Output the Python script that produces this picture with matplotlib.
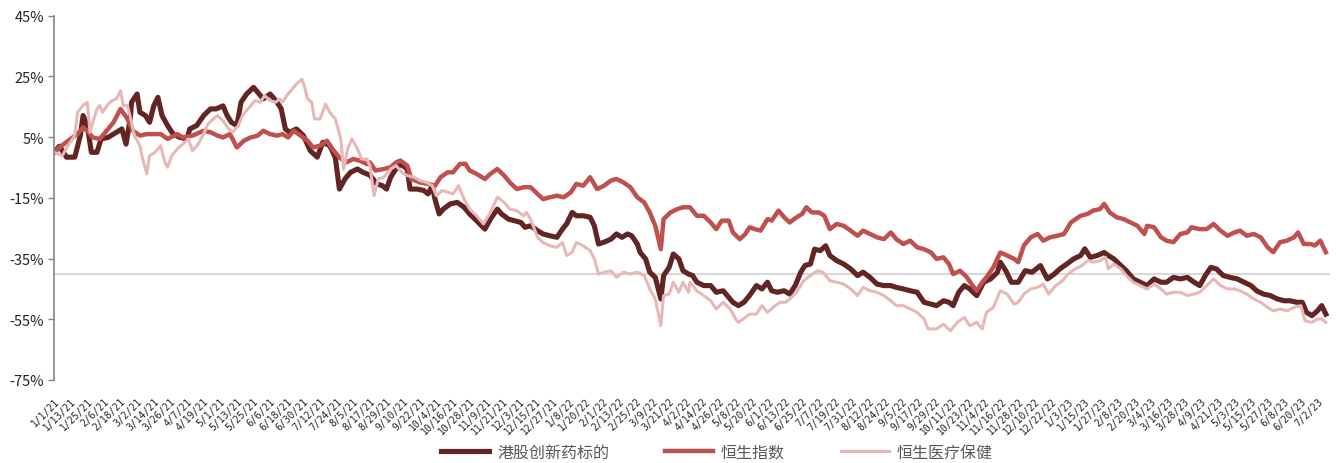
import datetime as dt
import matplotlib
matplotlib.use("Agg")
import matplotlib.pyplot as plt

plt.rcParams['font.family'] = ['Noto Sans CJK SC', 'DejaVu Sans']

START = dt.date(2021, 1, 1)

# 累计涨跌幅(%)，横轴为距 2021-01-01 的自然日
dark_day = [0, 4, 9, 15, 19, 21, 24, 27, 31, 34, 39, 45, 49, 52, 55, 56, 60, 62, 66, 69,
            72, 75, 78, 82, 86, 91, 96, 98, 103, 108, 113, 117, 122, 125, 128, 132, 135, 139, 144, 147,
            151, 156, 161, 164, 167, 170, 175, 180, 185, 190, 194, 199, 203, 206, 210, 214, 219, 223, 228, 233,
            237, 240, 243, 246, 250, 255, 257, 262, 267, 270, 273, 275, 278, 281, 286, 291, 296, 300, 305, 311,
            315, 320, 323, 328, 332, 337, 340, 344, 349, 353, 358, 363, 367, 370, 374, 377, 382, 387, 390, 393,
            397, 402, 406, 410, 414, 417, 421, 423, 427, 430, 434, 438, 440, 444, 447, 451, 454, 458, 461, 464,
            469, 474, 478, 483, 487, 490, 494, 498, 502, 507, 511, 515, 518, 522, 527, 531, 535, 539, 542, 546,
            549, 553, 557, 560, 565, 570, 575, 580, 584, 589, 594, 599, 604, 608, 613, 618, 623, 628, 633, 637,
            642, 646, 649, 653, 657, 661, 666, 671, 676, 681, 683, 687, 691, 696, 701, 706, 712, 717, 722, 726,
            731, 736, 741, 744, 748, 753, 758, 761, 765, 770, 774, 779, 784, 789, 794, 799, 803, 808, 813, 818,
            823, 827, 831, 835, 839, 844, 849, 854, 859, 864, 868, 873, 878, 883, 888, 892, 897, 901, 904, 908,
            912, 915, 918]
dark_val = [0, 2.0, -1.6, -1.6, 5.5, 12.1, 8.8, 0, 0, 4.4, 4.9, 6.6, 7.7, 2.7, 11.0, 16.5, 19.2, 13.2, 12.1, 9.9,
            15.3, 18.1, 12.1, 8.8, 6.0, 4.9, 4.4, 7.7, 8.8, 12.1, 14.3, 14.3, 15.3, 12.1, 9.9, 8.8, 16.5, 19.2, 21.4, 19.8,
            17.6, 19.2, 16.5, 14.3, 7.7, 6.6, 7.7, 5.5, 0.5, -1.6, 3.3, 2.2, -1.6, -12.1, -8.8, -6.6, -5.5, -6.6, -7.5, -10.4,
            -11.0, -12.1, -8.2, -6.0, -3.8, -5.5, -12.1, -12.1, -12.6, -13.7, -11.0, -15.4, -20.3, -18.7, -17.0, -16.5, -18.1, -20.3, -22.5, -25.3,
            -22.0, -18.7, -20.3, -22.0, -22.5, -23.1, -24.7, -24.2, -25.8, -26.9, -27.5, -28.0, -25.3, -23.6, -19.8, -20.9, -20.9, -21.4, -24.2, -30.2,
            -29.6, -28.6, -26.9, -28.0, -26.9, -27.5, -30.2, -32.9, -35.1, -39.5, -41.2, -48.3, -40.6, -37.9, -33.5, -35.1, -39.0, -40.1, -40.6, -42.8,
            -43.9, -43.9, -46.1, -45.6, -47.8, -49.4, -50.5, -49.4, -47.2, -43.9, -45.0, -42.8, -45.6, -46.1, -45.6, -46.7, -43.9, -39.5, -37.3, -36.8,
            -31.9, -32.4, -30.8, -34.0, -35.7, -36.8, -38.4, -40.6, -39.5, -41.2, -43.4, -43.9, -43.9, -44.5, -45.0, -45.6, -46.1, -49.4, -50.0, -50.5,
            -48.9, -49.4, -50.5, -46.1, -43.9, -45.0, -47.2, -42.8, -41.7, -39.5, -36.2, -39.0, -42.8, -42.8, -39.0, -39.5, -37.3, -41.7, -40.1, -38.4,
            -36.8, -35.1, -34.0, -31.8, -34.6, -34.0, -33.0, -34.0, -35.1, -37.3, -39.0, -41.7, -42.8, -43.9, -41.7, -42.8, -42.8, -41.2, -41.7, -41.2,
            -42.8, -43.9, -40.6, -37.9, -38.4, -40.6, -41.2, -41.7, -42.8, -43.9, -45.6, -46.7, -47.2, -48.3, -48.9, -48.9, -49.4, -49.4, -52.7, -53.8,
            -52.2, -50.5, -53.3]

hsi_day = [0, 7, 12, 17, 21, 24, 28, 33, 38, 43, 48, 53, 57, 62, 67, 72, 77, 82, 89, 93,
           100, 108, 113, 118, 122, 127, 132, 137, 142, 147, 151, 156, 161, 165, 169, 173, 178, 183, 187, 192,
           197, 201, 206, 211, 216, 221, 226, 228, 232, 238, 243, 247, 250, 255, 258, 264, 270, 275, 279, 284,
           288, 293, 297, 300, 305, 311, 315, 320, 325, 329, 334, 339, 344, 349, 353, 358, 363, 368, 373, 377,
           382, 387, 392, 397, 402, 406, 411, 416, 421, 426, 430, 434, 438, 440, 445, 450, 454, 459, 464, 469,
           474, 478, 482, 487, 490, 495, 499, 502, 506, 510, 515, 518, 523, 527, 531, 536, 540, 543, 547, 552,
           556, 560, 565, 570, 575, 580, 584, 589, 594, 599, 604, 608, 613, 618, 623, 628, 633, 637, 642, 646,
           649, 654, 659, 663, 666, 670, 673, 678, 683, 688, 693, 696, 700, 705, 710, 714, 719, 724, 729, 734,
           741, 746, 750, 755, 758, 762, 767, 772, 777, 782, 787, 789, 794, 799, 803, 808, 813, 818, 821, 827,
           832, 837, 842, 847, 852, 856, 861, 866, 871, 876, 880, 885, 890, 895, 898, 902, 907, 910, 914, 918]
hsi_val = [0, 2.7, 4.4, 6.0, 8.2, 7.1, 4.9, 4.4, 7.1, 9.9, 14.3, 11.0, 7.1, 5.5, 6.0, 6.0, 6.0, 4.4, 6.0, 4.9,
           5.5, 7.1, 6.6, 5.5, 4.9, 6.0, 1.6, 3.8, 4.9, 5.5, 7.1, 6.0, 5.5, 6.0, 4.9, 7.1, 5.5, 3.8, 1.6, 2.2,
           3.8, 1.1, -1.7, -3.3, -2.2, -2.8, -3.9, -3.3, -6.0, -5.5, -4.9, -3.3, -2.7, -4.4, -8.8, -9.9, -10.4, -11.0, -8.2, -6.6,
           -6.6, -3.8, -3.8, -6.0, -7.1, -8.8, -7.1, -5.5, -7.7, -9.9, -12.1, -11.5, -11.5, -13.7, -15.4, -14.8, -14.3, -14.8, -13.2, -10.4,
           -11.0, -8.2, -12.1, -11.0, -9.3, -8.8, -9.9, -11.5, -14.8, -16.5, -19.8, -24.2, -31.9, -22.0, -19.8, -18.7, -18.1, -18.1, -20.9, -20.9,
           -23.1, -25.3, -22.5, -22.5, -26.4, -28.6, -26.9, -24.7, -25.3, -25.8, -22.0, -22.5, -19.2, -21.4, -23.1, -21.4, -20.3, -18.1, -19.8, -19.8,
           -20.9, -25.3, -23.6, -24.2, -25.8, -27.5, -25.8, -26.9, -28.0, -28.6, -26.4, -28.6, -30.2, -29.1, -31.3, -31.9, -33.0, -35.1, -34.6, -36.8,
           -40.1, -39.0, -41.2, -43.9, -45.6, -42.8, -41.2, -37.9, -33.0, -34.0, -35.1, -36.2, -30.7, -28.0, -26.9, -29.1, -28.0, -27.5, -26.9, -23.1,
           -20.9, -20.3, -19.2, -18.7, -17.0, -19.8, -21.4, -22.0, -23.1, -24.2, -26.9, -24.2, -24.7, -28.0, -29.1, -29.6, -26.9, -26.4, -24.7, -25.3,
           -25.3, -23.6, -25.8, -27.5, -26.4, -25.8, -27.5, -26.9, -28.0, -31.3, -32.9, -29.6, -29.1, -28.0, -26.4, -30.2, -30.2, -30.7, -29.1, -32.9]

hc_day = [0, 6, 10, 15, 17, 21, 24, 26, 28, 31, 33, 35, 39, 42, 45, 48, 50, 53, 56, 58,
          62, 64, 67, 69, 73, 77, 80, 82, 85, 89, 93, 97, 100, 104, 108, 111, 115, 118, 122, 126,
          129, 133, 136, 141, 145, 149, 152, 156, 160, 163, 165, 168, 172, 175, 179, 181, 183, 186, 188, 192,
          196, 199, 203, 207, 209, 212, 215, 219, 222, 226, 228, 231, 234, 238, 243, 247, 251, 255, 260, 264,
          269, 273, 276, 280, 285, 288, 292, 296, 300, 305, 310, 315, 320, 325, 329, 334, 339, 341, 344, 349,
          353, 358, 363, 367, 370, 374, 377, 382, 387, 390, 393, 397, 402, 406, 411, 416, 421, 426, 430, 434,
          438, 440, 444, 447, 451, 454, 458, 459, 464, 469, 474, 478, 483, 488, 492, 494, 499, 502, 507, 511,
          515, 519, 524, 528, 531, 536, 541, 546, 551, 555, 560, 565, 570, 575, 580, 584, 589, 594, 599, 604,
          608, 613, 618, 623, 628, 631, 637, 642, 647, 652, 657, 661, 666, 670, 673, 678, 683, 688, 693, 696,
          700, 705, 710, 714, 718, 723, 728, 732, 737, 742, 746, 750, 755, 759, 761, 765, 770, 774, 779, 784,
          789, 794, 799, 803, 808, 813, 818, 823, 827, 832, 837, 842, 847, 852, 856, 861, 866, 871, 876, 880,
          885, 890, 895, 900, 903, 908, 912, 915, 918]
hc_val = [0, -1.1, 2.2, 5.5, 13.2, 15.4, 16.5, 6.6, 9.9, 14.3, 15.4, 13.2, 15.9, 17.0, 17.6, 20.3, 15.4, 15.4, 9.9, 5.5,
          2.2, -2.2, -7.1, -1.1, 0, 2.2, -3.3, -4.9, -1.1, 1.1, 2.7, 4.4, 0.5, 2.7, 6.0, 9.3, 11.0, 12.1, 10.4, 7.7,
          6.6, 8.8, 12.1, 14.8, 17.0, 16.5, 18.7, 17.0, 16.5, 17.6, 16.5, 18.7, 20.9, 22.5, 24.1, 21.4, 17.6, 16.5, 11.0, 11.0,
          15.9, 13.2, 11.0, 4.4, -5.5, 1.1, 4.4, 1.1, -2.2, -2.2, -4.4, -14.3, -8.8, -8.2, -5.5, -4.4, -6.6, -7.7, -8.2, -9.3,
          -9.9, -11.0, -14.3, -12.6, -13.2, -13.7, -11.0, -15.4, -18.7, -20.9, -23.6, -19.8, -14.8, -16.5, -18.7, -19.2, -20.9, -19.8, -22.0, -28.0,
          -29.7, -30.8, -31.3, -29.7, -34.0, -32.9, -29.7, -30.8, -32.4, -35.1, -40.1, -39.5, -39.0, -41.2, -39.5, -40.1, -39.5, -40.6, -45.0, -48.3,
          -57.1, -47.2, -46.7, -42.8, -46.1, -42.8, -46.1, -42.8, -45.6, -47.2, -48.9, -51.6, -49.4, -51.6, -54.9, -56.0, -54.4, -53.3, -53.3, -50.5,
          -52.7, -51.1, -49.4, -49.4, -48.3, -46.1, -42.3, -40.6, -39.0, -39.5, -42.3, -42.8, -43.4, -45.0, -47.2, -44.5, -45.6, -46.1, -47.2, -48.9,
          -50.5, -50.5, -51.6, -52.7, -54.9, -58.2, -58.2, -56.6, -58.8, -56.0, -54.4, -57.1, -56.0, -58.2, -52.7, -51.1, -45.6, -46.7, -50.0, -49.4,
          -46.7, -45.0, -44.5, -43.4, -46.7, -43.9, -42.3, -40.1, -38.4, -37.3, -35.7, -36.2, -35.7, -34.6, -38.4, -36.8, -38.4, -40.6, -42.8, -43.9,
          -45.0, -43.4, -45.0, -46.7, -46.1, -46.1, -47.2, -46.7, -46.1, -43.9, -41.7, -43.9, -45.0, -45.0, -45.6, -46.7, -48.3, -49.4, -51.1, -52.2,
          -51.6, -52.2, -51.1, -50.5, -55.5, -56.0, -54.9, -54.9, -56.0]

series_names = ['港股创新药标的', '恒生指数', '恒生医疗保健']
series_colors = ['#632523', '#c0504d', '#e6b9b8']
ref_level = -40

yticks = list(range(-75, 46, 20))
tick_step = 12
tick_last = dt.date(2023, 7, 2)


def to_dates(days):
    return [START + dt.timedelta(days=d) for d in days]


fig = plt.figure(figsize=(13.36, 4.64), dpi=100)
ax = fig.add_axes([54 / 1336, 1 - 381 / 464, 1276 / 1336, 364.3 / 464])

ax.axhline(ref_level, color='#d9d9d9', lw=1.5, zorder=1)

widths = [3.7, 3.2, 2.2]
for (days, vals), name, c, w in zip([(dark_day, dark_val), (hsi_day, hsi_val), (hc_day, hc_val)],
                                    series_names, series_colors, widths):
    ax.plot(to_dates(days), vals, color=c, lw=w, label=name, solid_joinstyle='round', zorder=2)

ax.set_ylim(-75, 45)
ax.set_yticks(yticks)
ax.set_yticklabels([f'{v}%' for v in yticks])
ax.set_xlim(START, START + dt.timedelta(days=921))

ticks = []
t = START
while t <= tick_last:
    ticks.append(t)
    t += dt.timedelta(days=tick_step)
ax.set_xticks(ticks)
ax.set_xticklabels([f'{d.month}/{d.day}/{d.year % 100}' for d in ticks],
                   rotation=45, ha='right', va='top', rotation_mode='anchor',
                   fontfamily='DejaVu Sans Mono', fontsize=7, color='#222222')
ax.tick_params(axis='x', length=0, pad=11)
ax.tick_params(axis='y', length=4, width=1, color='#868686', labelsize=10.5, labelcolor='#222222', pad=3)

for s in ['top', 'right', 'bottom']:
    ax.spines[s].set_visible(False)
ax.spines['left'].set_color('#868686')
ax.spines['left'].set_linewidth(1.2)

leg = fig.legend(loc='center', bbox_to_anchor=(717 / 1336, 1 - 453 / 464), ncol=3, frameon=False,
                 fontsize=11.5, handlelength=3.0, handletextpad=0.5, columnspacing=3.5)
for txt in leg.get_texts():
    txt.set_color('#595959')

fig.savefig('out.png', dpi=100)
